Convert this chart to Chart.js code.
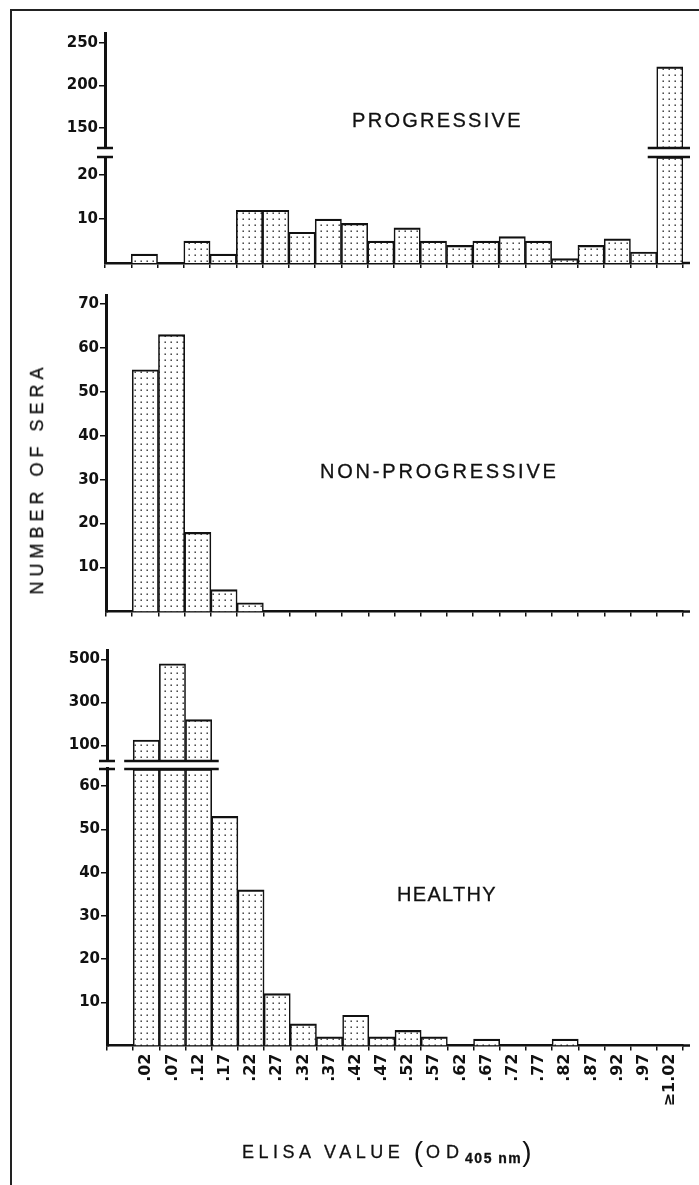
<!DOCTYPE html>
<html>
<head>
<meta charset="utf-8">
<title>ELISA value distribution</title>
<script src="https://cdn.jsdelivr.net/npm/chart.js@4.4.1/dist/chart.umd.min.js"></script>
<style>
  html, body { margin: 0; padding: 0; background: #fff; }
  #page { position: relative; width: 699px; height: 1185px; overflow: hidden; background: #fff;
          font-family: "Liberation Sans", Arial, sans-serif; color: #111; }
  #frameTop { position: absolute; left: 10px; top: 9px; width: 700px; height: 2px; background: #222; }
  #frameLeft { position: absolute; left: 10px; top: 9px; width: 2px; height: 1190px; background: #222; }
  .panel { position: absolute; left: 0; }
  .tag { position: absolute; font-size: 20px; line-height: 20px; white-space: nowrap; -webkit-text-stroke: 0.3px #111; }
  #tagP { left: 352px; top: 110px; letter-spacing: 2.3px; }
  #tagN { left: 320px; top: 461px; letter-spacing: 2.8px; }
  #tagH { left: 397px; top: 884px; letter-spacing: 1.3px; }
  #ytitle { position: absolute; left: 37px; top: 481px; font-size: 18px; line-height: 18px; letter-spacing: 5px;
            padding-left: 5px; white-space: nowrap; -webkit-text-stroke: 0.3px #111;
            transform: translate(-50%, -50%) rotate(-90deg); }
  #xtitle { position: absolute; left: 242px; top: 1143px; font-size: 18px; line-height: 18px;
            letter-spacing: 4.5px; white-space: nowrap; -webkit-text-stroke: 0.3px #111; }
  #xtitle .par { font-size: 28px; letter-spacing: 3px; vertical-align: -3px; -webkit-text-stroke: 0; }
  #xtitle .od { letter-spacing: 6px; }
  #xtitle sub { font-size: 14px; font-weight: bold; letter-spacing: 1.5px; vertical-align: -5px; line-height: 0; }
</style>
</head>
<body>
<div id="page">
  <div id="frameTop"></div>
  <div id="frameLeft"></div>
  <div class="panel" style="top:0"><canvas id="progChart" width="699" height="285"></canvas></div>
  <div class="panel" style="top:285px"><canvas id="nonProgChart" width="699" height="355"></canvas></div>
  <div class="panel" style="top:640px"><canvas id="healthyChart" width="699" height="545"></canvas></div>
  <div class="tag" id="tagP">PROGRESSIVE</div>
  <div class="tag" id="tagN">NON-PROGRESSIVE</div>
  <div class="tag" id="tagH">HEALTHY</div>
  <div id="ytitle">NUMBER OF SERA</div>
  <div id="xtitle">ELISA VALUE <span class="par">(</span><span class="od">OD</span><sub>405 nm</sub><span class="par">)</span></div>
</div>
<script>
// ELISA value bins (OD405 nm)
const elisaBins = ['.02', '.07', '.12', '.17', '.22', '.27', '.32', '.37', '.42', '.47', '.52',
                   '.57', '.62', '.67', '.72', '.77', '.82', '.87', '.92', '.97', '≥1.02'];

// number of sera per bin
const progressive    = [2, 0, 5, 2, 12, 12, 7, 10, 9, 5, 8, 5, 4, 5, 6, 5, 1, 4, 5.5, 2.5, 222];
const nonProgressive = [55, 63, 18, 5, 2, 0, 0, 0, 0, 0, 0, 0, 0, 0, 0, 0, 0, 0, 0, 0, 0];
const healthy        = [125, 480, 220, 53, 36, 12, 5, 2, 7, 2, 3.5, 2, 0, 1.5, 0, 0, 1.5, 0, 0, 0, 0];

// tick labels on the y axes (lower / upper part of the broken axes)
const progLowTicks = [10, 20];
const progHighTicks = [150, 200, 250];
const nonProgTicks = [10, 20, 30, 40, 50, 60, 70];
const healthyLowTicks = [10, 20, 30, 40, 50, 60];
const healthyHighTicks = [100, 300, 500];

const INK = '#111';
const TICK_FONT = { family: 'DejaVu Sans', size: 15, weight: 'bold' };

// stippled fill like the printed figure
function dotPattern() {
    const c = document.createElement('canvas');
    c.width = 6; c.height = 6;
    const g = c.getContext('2d');
    g.fillStyle = '#fff';
    g.fillRect(0, 0, 6, 6);
    g.fillStyle = '#222';
    g.fillRect(2.5, 2.5, 1.4, 1.4);
    return g.createPattern(c, 'repeat');
}
const dots = dotPattern();

function barSet(data, axis) {
    return {
        data: [null].concat(data), // first slot is the empty bin next to the y axis
        yAxisID: axis,
        backgroundColor: dots,
        borderColor: INK,
        borderWidth: { top: 2.2, left: 1.6, right: 1.6, bottom: 0 },
        borderSkipped: 'start',
        barPercentage: 1,
        categoryPercentage: 1,
        grouped: false
    };
}

function xScale(showLabels) {
    return {
        type: 'category',
        offset: true,
        grid: { offset: true, drawOnChartArea: false, drawTicks: true, tickLength: 5, color: INK, lineWidth: 1.5 },
        border: { display: true, color: INK, width: 2.5 },
        ticks: showLabels
            ? { autoSkip: false, minRotation: 90, maxRotation: 90, padding: 3, color: INK,
                font: { family: 'DejaVu Sans', size: 16, weight: 'bold' } }
            : { callback: () => '' },
        afterFit: s => { s.height = showLabels ? 80 : 10; }
    };
}

function yScale(axisX, stack, weight, min, max, ticks) {
    return {
        type: 'linear',
        position: 'left',
        stack: stack,
        stackWeight: weight,
        min: min,
        max: max,
        afterBuildTicks: s => { s.ticks = ticks.map(v => ({ value: v })); },
        afterFit: s => { s.width = axisX; },
        ticks: { color: INK, padding: 1, font: TICK_FONT },
        grid: { drawOnChartArea: false, tickLength: 6, color: INK, lineWidth: 1.5 },
        border: { color: INK, width: 3 }
    };
}

function gapScale(axisX, stack, weight) {
    return {
        type: 'linear', position: 'left', stack: stack, stackWeight: weight, min: 0, max: 1,
        ticks: { display: false }, grid: { display: false }, border: { display: false },
        afterFit: s => { s.width = axisX; }
    };
}

// axis breaks, plus the short run of x axis past the last bin
const breakMarks = {
    id: 'breakMarks',
    afterDraw(chart) {
        const ctx = chart.ctx, area = chart.chartArea;
        ctx.save();
        ctx.strokeStyle = INK;
        ctx.lineWidth = 2.5;
        ctx.beginPath();
        ctx.moveTo(area.right, area.bottom);
        ctx.lineTo(area.right + 7, area.bottom);
        ctx.stroke();
        const low = chart.scales.yLow, up = chart.scales.yUp;
        if (low && up) {
            const upData = chart.data.datasets[1].data;
            let l = Infinity, r = -Infinity;
            chart.getDatasetMeta(1).data.forEach((b, i) => {
                if (upData[i] == null) return;
                l = Math.min(l, b.x - b.width / 2);
                r = Math.max(r, b.x + b.width / 2);
            });
            [low.top, up.bottom].forEach(y => {
                ctx.beginPath();
                ctx.moveTo(area.left - 8, y);
                ctx.lineTo(area.left + 8, y);
                ctx.moveTo(l - 9, y);
                ctx.lineTo(r + 7, y);
                ctx.stroke();
            });
        }
        ctx.restore();
    }
};

function makePanel(id, values, cfg) {
    const scales = { x: xScale(cfg.labels) };
    let datasets;
    if (cfg.split) {
        const sp = cfg.split;
        datasets = [
            barSet(values.map(v => Math.min(v, sp.lowMax)), 'yLow'),
            barSet(values.map(v => (v > sp.lowMax ? v : null)), 'yUp')
        ];
        scales.yLow = yScale(cfg.axisX, id, sp.lowPx, 0, sp.lowMax, sp.lowTicks);
        scales.yGap = gapScale(cfg.axisX, id, sp.gapPx);
        scales.yUp = yScale(cfg.axisX, id, sp.upPx, sp.upMin, sp.upMax, sp.upTicks);
    } else {
        datasets = [barSet(values, 'y')];
        scales.y = yScale(cfg.axisX, undefined, 1, 0, cfg.max, cfg.ticks);
    }
    return new Chart(document.getElementById(id), {
        type: 'bar',
        data: { labels: [''].concat(elisaBins), datasets: datasets },
        options: {
            responsive: false,
            animation: false,
            layout: { padding: cfg.padding },
            plugins: { legend: { display: false }, tooltip: { enabled: false } },
            scales: scales
        },
        plugins: [breakMarks]
    });
}

makePanel('progChart', progressive, {
    axisX: 105,
    labels: false,
    padding: { top: 33, left: 0, right: 16, bottom: 12 },
    split: { lowMax: 24.1, lowPx: 106, lowTicks: progLowTicks, gapPx: 9,
             upMin: 126.5, upMax: 261.8, upPx: 115, upTicks: progHighTicks }
});

makePanel('nonProgChart', nonProgressive, {
    axisX: 106,
    labels: false,
    padding: { top: 9, left: 0, right: 16, bottom: 18.5 },
    max: 72,
    ticks: nonProgTicks
});

makePanel('healthyChart', healthy, {
    axisX: 107,
    labels: true,
    padding: { top: 2, left: 0, right: 16, bottom: 59.5 },
    split: { lowMax: 64, lowPx: 282.2, lowTicks: healthyLowTicks, gapPx: 8,
             upMin: 27, upMax: 544, upPx: 113.3, upTicks: healthyHighTicks }
});
</script>
</body>
</html>
